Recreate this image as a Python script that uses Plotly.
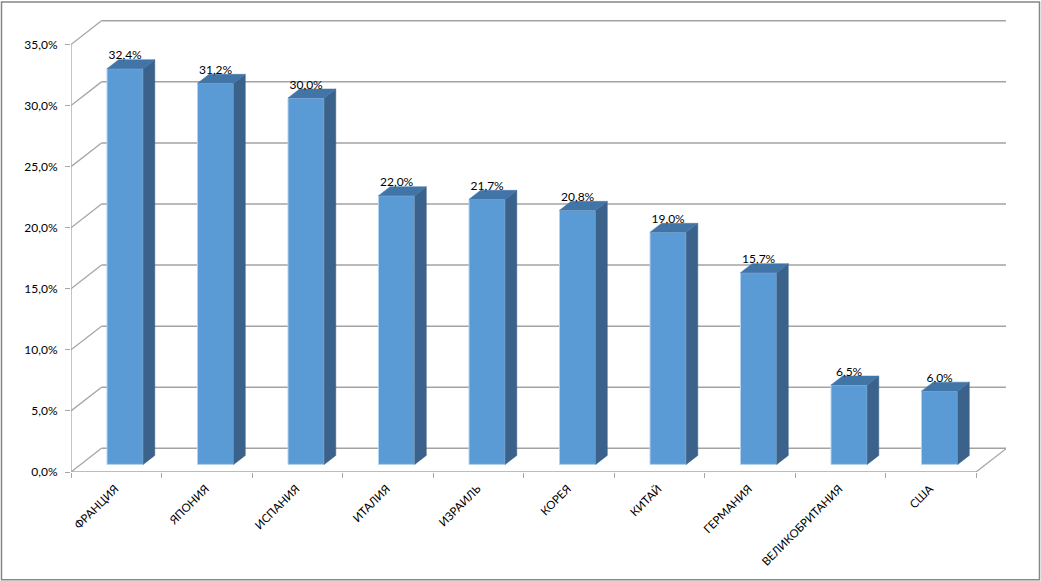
import plotly.graph_objects as go

categories = ["ФРАНЦИЯ", "ЯПОНИЯ", "ИСПАНИЯ", "ИТАЛИЯ", "ИЗРАИЛЬ", "КОРЕЯ", "КИТАЙ", "ГЕРМАНИЯ", "ВЕЛИКОБРИТАНИЯ", "США"]
values = [32.4, 31.2, 30.0, 22.0, 21.7, 20.8, 19.0, 15.7, 6.5, 6.0]
y_ticks = [0, 5, 10, 15, 20, 25, 30, 35]
y_tick_labels = ["0,0%", "5,0%", "10,0%", "15,0%", "20,0%", "25,0%", "30,0%", "35,0%"]

W, H = 1041, 581
PX_L, PX_R = 71.0, 1006.0       # plot area in page pixels
PX_Y0, PX_YTOP = 471.7, 7.5
UX = 90.5                        # px per category
UY = 12.22                       # px per value unit
DX = 30.5 / UX                   # floor depth in x data units
DY = 23.7 / UY                   # floor depth in y data units
D0, D1 = 0.32, 0.70              # bar front/back positions within the depth
BAR_W = 0.40
N = len(categories)

FONT = "Lato, 'Noto Sans', sans-serif"
GRID = "#A3A3A3"
AXIS = "#A6A6A6"
FRONT = "#5B9BD5"
EDGE = "#B4D2EE"
TOP = "#4175A8"
SIDE = "#3A628A"

centers = [i + 0.49 + D0 * DX for i in range(N)]
bases = D0 * DY
bd_x = (D1 - D0) * DX
bd_y = (D1 - D0) * DY

fig = go.Figure()

# oblique frame lines: axis, floor edge, wall diagonals
lx, ly = [0, 0, None, 0, N, None, N, N + DX, None], [0, y_ticks[-1], None, 0, 0, None, 0, DY, None]
for t in y_ticks:
    lx += [0, DX, None]
    ly += [t, t + DY, None]
fig.add_trace(go.Scatter(x=lx, y=ly, mode="lines", line=dict(color=AXIS, width=1.3),
                         cliponaxis=False, hoverinfo="skip", showlegend=False))

# front faces
fig.add_trace(go.Bar(x=centers, y=values, base=bases, width=BAR_W,
                     marker=dict(color=FRONT, line=dict(color=EDGE, width=1)),
                     hoverinfo="skip", showlegend=False))

# side and top faces
sx, sy, tx, ty = [], [], [], []
for c, v in zip(centers, values):
    r = c + BAR_W / 2
    l = c - BAR_W / 2
    top = v + bases
    sx += [r, r + bd_x, r + bd_x, r, r, None]
    sy += [bases, bases + bd_y, top + bd_y, top, bases, None]
    tx += [l, r, r + bd_x, l + bd_x, l, None]
    ty += [top, top, top + bd_y, top + bd_y, top, None]
for px, py, col in ((sx, sy, SIDE), (tx, ty, TOP)):
    fig.add_trace(go.Scatter(x=px, y=py, mode="lines", fill="toself", fillcolor=col,
                             line=dict(color=col, width=0.5), hoverinfo="skip", showlegend=False))

# value labels
fig.add_trace(go.Scatter(x=centers, y=[v + bases + bd_y * 0.72 for v in values], mode="text",
                         text=[f"{v:.1f}%".replace(".", ",") for v in values],
                         textposition="top center", textfont=dict(family=FONT, size=12, color="#000000"),
                         cliponaxis=False, hoverinfo="skip", showlegend=False))

# back wall gridlines
shapes = [dict(type="line", xref="x", yref="y", x0=DX, x1=N + DX, y0=t + DY, y1=t + DY,
               layer="below", line=dict(color=GRID, width=1.5)) for t in y_ticks]

# outer chart border
plot_w = PX_R - PX_L
plot_h = PX_Y0 - PX_YTOP
shapes.append(dict(type="rect", xref="paper", yref="paper",
                   x0=(1.5 - PX_L) / plot_w, x1=(1039.5 - PX_L) / plot_w,
                   y0=(PX_Y0 - 579.5) / plot_h, y1=(PX_Y0 - 1.5) / plot_h,
                   line=dict(color="#868686", width=1.5), fillcolor="rgba(0,0,0,0)", layer="below"))

fig.update_layout(
    width=W, height=H, paper_bgcolor="white", plot_bgcolor="white",
    margin=dict(l=PX_L, r=W - PX_R, t=PX_YTOP, b=H - PX_Y0, pad=0, autoexpand=False),
    showlegend=False, barmode="overlay", shapes=shapes,
    font=dict(family=FONT, size=12, color="#000000"),
    xaxis=dict(range=[0, plot_w / UX], tickmode="array", tickvals=[i + 0.49 for i in range(N)],
               ticktext=categories, tickangle=-45, ticks="", showgrid=False, zeroline=False,
               showline=False, tickfont=dict(family=FONT, size=11.4), ticklabelstandoff=7,
               minor=dict(tickmode="array", tickvals=list(range(N + 1)), ticks="outside", ticklen=5,
                          tickcolor=AXIS, tickwidth=1, showgrid=False)),
    yaxis=dict(range=[0, plot_h / UY], tickmode="array", tickvals=y_ticks, ticktext=y_tick_labels,
               ticks="outside", ticklen=5, tickcolor=AXIS, tickwidth=1, showgrid=False, zeroline=False,
               showline=False, tickfont=dict(family=FONT, size=12), ticklabelstandoff=5),
)

fig.write_html("out.html", config=dict(displayModeBar=False),
               post_script="document.body.style.margin='0';document.body.style.overflow='hidden';")
